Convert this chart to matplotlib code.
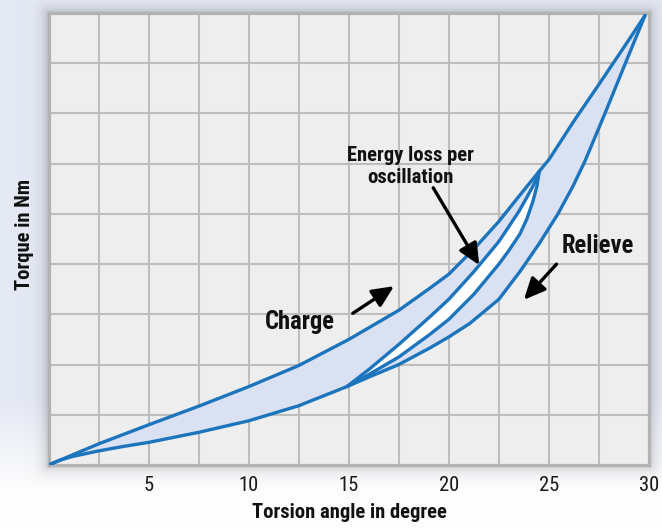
import os
import numpy as np
import matplotlib
matplotlib.use("Agg")
import matplotlib.pyplot as plt
from matplotlib import font_manager
from matplotlib.font_manager import FontProperties

# ---------------- data ----------------
# outer loading curve ("Charge")
charge_x = [0, 2.5, 5, 7.5, 10, 12.5, 15, 17.5, 19.05, 20, 21.25, 22.5, 23.5, 24.52, 25, 26.25, 27.5, 28.75, 29.8]
charge_y = [0, 0.42, 0.8, 1.17, 1.56, 1.98, 2.5, 3.08, 3.52, 3.8, 4.3, 4.85, 5.35, 5.85, 6.08, 6.85, 7.58, 8.32, 8.95]
# outer unloading curve ("Relieve")
relieve_x = [0, 0.6, 1.2, 2.5, 3.75, 5, 7.5, 10, 12.5, 14.9, 16, 17.5, 19.05, 20, 21.05, 22.5, 23.55, 24.5, 25.45, 26.2, 26.8, 27.8, 28.8, 29.8]
relieve_y = [0, 0.1, 0.17, 0.28, 0.37, 0.45, 0.65, 0.88, 1.18, 1.56, 1.75, 2.0, 2.33, 2.55, 2.82, 3.3, 3.85, 4.4, 5.0, 5.55, 6.05, 7.0, 7.98, 8.95]
# inner (partial oscillation) loop
inner_up_x = [14.9, 16, 17.5, 19.05, 20, 21.25, 22.5, 23.0, 23.5, 23.9, 24.2, 24.4, 24.52]
inner_up_y = [1.56, 1.9, 2.4, 2.95, 3.3, 3.85, 4.45, 4.75, 5.05, 5.33, 5.55, 5.72, 5.85]
inner_lo_x = [14.9, 16, 17.5, 19.05, 20, 21.25, 22.5, 23.0, 23.55, 23.9, 24.2, 24.4, 24.52]
inner_lo_y = [1.56, 1.8, 2.15, 2.6, 2.9, 3.4, 4.0, 4.27, 4.6, 4.9, 5.25, 5.55, 5.85]

x_ticks = [5, 10, 15, 20, 25, 30]
x_tick_labels = ["5", "10", "15", "20", "25", "30"]
x_label = "Torsion angle in degree"
y_label = "Torque in Nm"
label_charge = "Charge"
label_relieve = "Relieve"
label_loss = "Energy loss per\noscillation"

# ---------------- fonts: prefer a narrow / condensed face ----------------
files = [f.fname for f in font_manager.fontManager.ttflist]
try:
    files += font_manager.findSystemFonts()
except Exception:
    pass
bases = {os.path.basename(p): p for p in files}

def pick(cands):
    for c, scale in cands:
        for b, p in bases.items():
            if b.lower().startswith(c.lower()):
                return p, scale
    return None, None

reg_path, reg_k = pick([("LiberationSansNarrow-Regular", 1.0), ("NotoSans-Condensed.", 1.0),
                        ("RobotoCondensed-Regular", 1.0), ("DejaVuSansCondensed.", 0.9)])
bold_path, bold_k = pick([("LiberationSansNarrow-Bold.", 1.0), ("NotoSans-CondensedBold", 1.0),
                          ("NotoSans-CondensedSemiBold", 1.0), ("RobotoCondensed-Bold", 1.12),
                          ("DejaVuSansCondensed-Bold.", 0.9)])
if reg_path:
    FP_REG = lambda s: FontProperties(fname=reg_path, size=s * reg_k)
else:
    FP_REG = lambda s: FontProperties(family="Roboto", size=s * 0.93)
if bold_path:
    FP_BOLD = lambda s: FontProperties(fname=bold_path, size=s * bold_k)
else:
    FP_BOLD = lambda s: FontProperties(family="Roboto", weight="bold", size=s * 1.0)

W, H = 662, 529
fig = plt.figure(figsize=(W / 100, H / 100), dpi=100)

# ---------------- background with gradient and frame shadow ----------------
L, R, T, B = 48.5, 649.0, 13.0, 465.0
yy, xx = np.mgrid[0:H, 0:W] + 0.5
base = np.array([0.898, 0.914, 0.960])
tw = np.clip((yy - 400) / 90.0, 0, 1)[..., None]
img = base * (1 - tw) + np.array([0.995, 0.995, 0.995]) * tw
dx = np.maximum(np.maximum(L - xx, xx - R), 0)
dy = np.maximum(np.maximum(T - yy, yy - B), 0)
d = np.hypot(dx, dy)
shadow = 0.20 * np.exp(-d / 6.0)
img = img * (1 - shadow[..., None])
bg = fig.add_axes([0, 0, 1, 1])
bg.imshow(img, extent=[0, W, H, 0], aspect="auto", interpolation="bilinear")
bg.set_xlim(0, W)
bg.set_ylim(H, 0)
bg.axis("off")

# ---------------- main axes ----------------
ax = fig.add_axes([L / W, 1 - B / H, (R - L) / W, (B - T) / H])
ax.set_facecolor("#eeeeee")
ax.set_xlim(0, 30)
ax.set_ylim(0, 9)
ax.set_xticks(x_ticks)
ax.set_xticklabels(x_tick_labels, fontproperties=FP_REG(14.8), color="#1a1a1a")
ax.set_xticks(np.arange(2.5, 30, 5), minor=True)
ax.set_yticks(np.arange(1, 9))
ax.set_yticklabels([])
ax.tick_params(axis="both", which="both", length=0)
ax.tick_params(axis="x", pad=8)
ax.grid(True, which="both", color="#bdbdbd", linewidth=1.5)
ax.set_axisbelow(True)
for s in ax.spines.values():
    s.set_color("#b3b3b3")
    s.set_linewidth(2.3)

blue = "#1c75bc"
fillc = "#dae1f3"
ax.fill(np.concatenate([charge_x, relieve_x[::-1]]),
        np.concatenate([charge_y, relieve_y[::-1]]), color=fillc, zorder=2, lw=0)
ax.fill(np.concatenate([inner_up_x, inner_lo_x[::-1]]),
        np.concatenate([inner_up_y, inner_lo_y[::-1]]), color="white", zorder=3, lw=0)
for xs, ys in [(charge_x, charge_y), (relieve_x, relieve_y),
               (inner_up_x, inner_up_y), (inner_lo_x, inner_lo_y)]:
    ax.plot(xs, ys, color=blue, lw=2.4, zorder=4, solid_joinstyle="round",
            solid_capstyle="round")

# ---------------- annotations ----------------
aprops = dict(arrowstyle="-|>,head_length=0.65,head_width=0.3", lw=2.4,
              color="black", shrinkA=0, shrinkB=0, mutation_scale=20)
ax.annotate("", xy=(21.52, 3.98), xytext=(19.22, 5.52), arrowprops=aprops, zorder=6)
ax.annotate("", xy=(17.26, 3.56), xytext=(15.2, 3.02), arrowprops=aprops, zorder=6)
ax.annotate("", xy=(23.75, 3.29), xytext=(25.38, 4.0), arrowprops=aprops, zorder=6)

ax.text(12.56, 2.84, label_charge, fontproperties=FP_BOLD(15.8),
        ha="center", va="center", color="#111111", zorder=7)
ax.text(27.45, 4.36, label_relieve, fontproperties=FP_BOLD(15.8),
        ha="center", va="center", color="#111111", zorder=7)
ax.text(18.1, 5.95, label_loss, fontproperties=FP_BOLD(13.3),
        ha="center", va="center", color="#111111", linespacing=1.2, zorder=7)

fig.text(349 / W, 1 - 512 / H, x_label, fontproperties=FP_BOLD(13.3),
         ha="center", va="center", color="#111111")
fig.text(25 / W, 1 - 234 / H, y_label, fontproperties=FP_BOLD(13.3),
         ha="center", va="center", rotation=90, color="#111111")

fig.savefig("out.png", dpi=100)
